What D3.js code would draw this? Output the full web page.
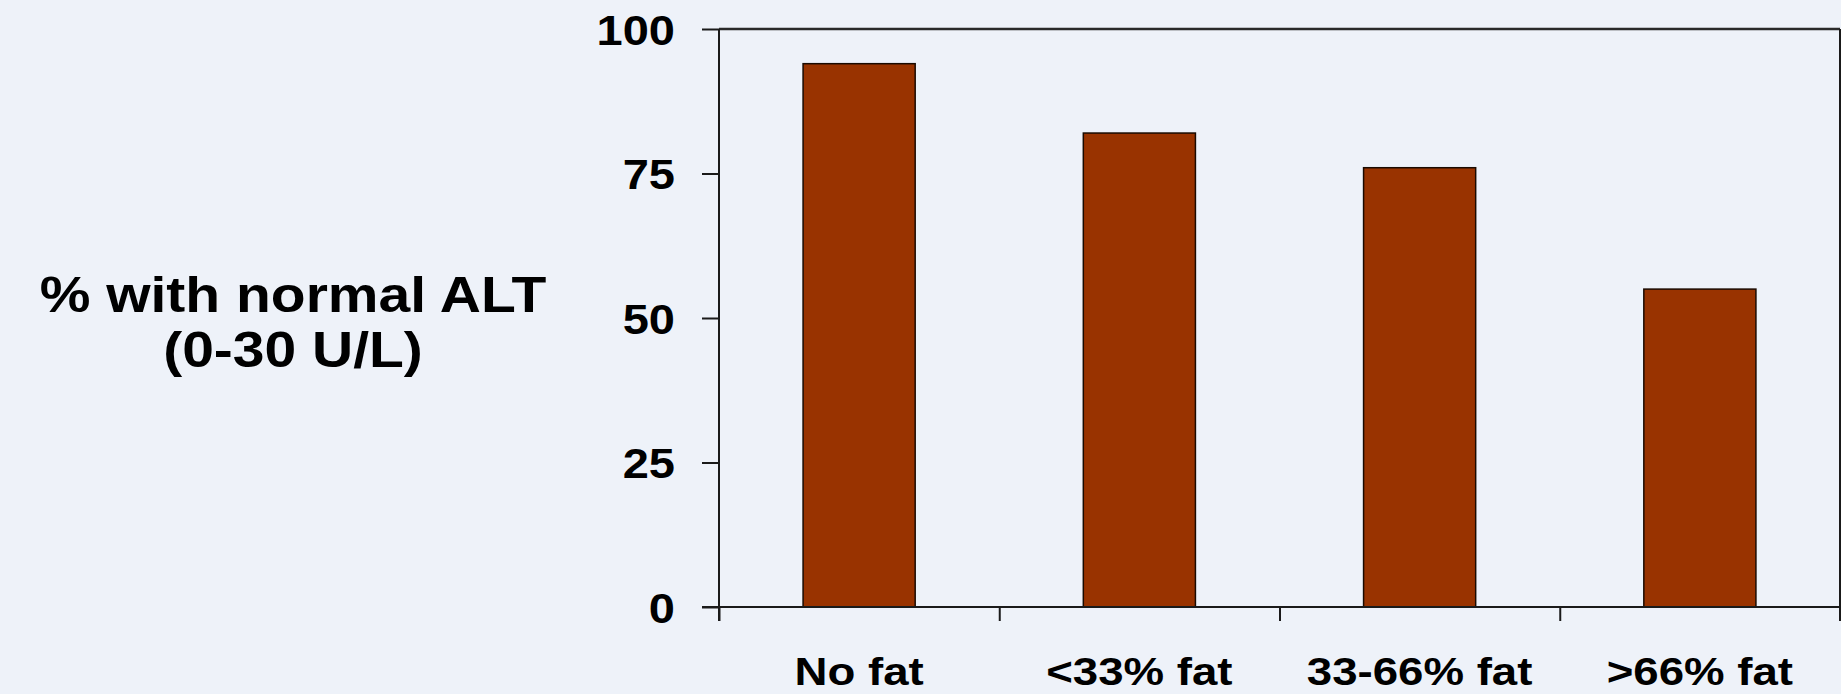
<!DOCTYPE html>
<html>
<head>
<meta charset="utf-8">
<script src="https://cdn.jsdelivr.net/npm/d3@7"></script>
<style>
    html, body { margin: 0; padding: 0; background: #eef2f9; }
    svg { display: block; }
    text { font-family: "Liberation Sans", Arial, sans-serif; font-weight: bold; fill: #000; }
    .axis path, .axis line { stroke: #1a1a1a; stroke-width: 2px; }
</style>
</head>
<body>
<svg id="chart"></svg>
<script>
/*global d3 */

var categories = ['No fat', '<33% fat', '33-66% fat', '>66% fat'];
var values = [94, 82, 76, 55];
var yTicks = [0, 25, 50, 75, 100];
var yLabelLines = ['% with normal ALT', '(0-30 U/L)'];

var W = 1841;
var H = 694;
var margin = { top: 29, right: 1, bottom: 87, left: 719 };
var width = W - margin.left - margin.right;
var height = H - margin.top - margin.bottom;

var $svg = d3.select('#chart')
    .attr('width', W)
    .attr('height', H);

var $g = $svg.append('g')
    .attr('transform', 'translate(' + margin.left + ',' + margin.top + ')');

var x = d3.scaleBand()
    .domain(categories)
    .range([0, width])
    .paddingInner(0.6)
    .paddingOuter(0.3);

// category boundaries for the tick marks
var xEdge = d3.scaleLinear()
    .domain([0, categories.length])
    .range([0, width]);

var y = d3.scaleLinear()
    .domain([0, 100])
    .range([height, 0]);

// frame: top line
$g.append('line')
    .attr('x1', 0).attr('x2', width)
    .attr('y1', y(100)).attr('y2', y(100))
    .style('stroke', '#2a2a2a').style('stroke-width', 2.5);

// bars
$g.selectAll('rect.bar')
    .data(values)
    .enter().append('rect')
    .attr('class', 'bar')
    .attr('x', function (d, i) { return x(categories[i]); })
    .attr('width', x.bandwidth())
    .attr('y', function (d) { return y(d); })
    .attr('height', function (d) { return height - y(d); })
    .style('fill', '#993300')
    .style('stroke', '#1a0a00')
    .style('stroke-width', 1.5);

// y axis
var $yAxis = $g.append('g')
    .attr('class', 'axis axis--y')
    .call(d3.axisLeft(y).tickValues(yTicks).tickSize(17).tickSizeOuter(0));

$yAxis.select('.domain').attr('d', 'M0,0V' + (height + 14));

$yAxis.selectAll('text')
    .attr('x', null)
    .attr('dy', '0.36em')
    .attr('transform', 'translate(-44,0) scale(1.12,1)')
    .style('font-size', '42px')
    .style('text-anchor', 'end');

// x axis tick marks at the category edges
var $xEdges = $g.append('g')
    .attr('class', 'axis axis--x')
    .attr('transform', 'translate(0,' + height + ')')
    .call(d3.axisBottom(xEdge)
        .tickValues(d3.range(categories.length + 1))
        .tickSize(14)
        .tickSizeOuter(0)
        .tickFormat(''));

$xEdges.select('.domain').attr('d', 'M-17,0H' + width);

// x axis labels
var $xLabels = $g.append('g')
    .attr('transform', 'translate(0,' + height + ')')
    .call(d3.axisBottom(x).tickSize(0));

$xLabels.select('.domain').remove();
$xLabels.selectAll('text')
    .attr('y', null)
    .attr('dy', null)
    .attr('transform', 'translate(0,78) scale(1.2,1)')
    .style('font-size', '38px');

// right border, same as the last edge tick but up to the top
$g.append('line')
    .attr('x1', width).attr('x2', width)
    .attr('y1', y(100)).attr('y2', height + 14)
    .style('stroke', '#1a1a1a').style('stroke-width', 2);

// y axis title
var $title = $svg.append('text')
    .attr('transform', 'translate(293,312) scale(1.14,1)')
    .style('font-size', '50px')
    .style('text-anchor', 'middle');

$title.selectAll('tspan')
    .data(yLabelLines)
    .enter().append('tspan')
    .attr('x', 0)
    .attr('y', function (d, i) { return i * 55; })
    .text(function (d) { return d; });
</script>
</body>
</html>
